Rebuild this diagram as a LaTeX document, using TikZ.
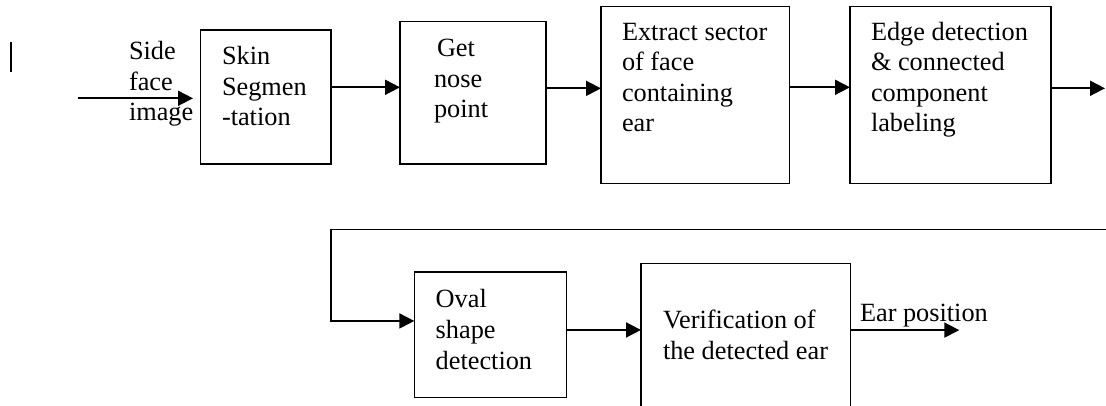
\documentclass[tikz,border=0pt]{standalone}
\usepackage{fontspec}
\setmainfont{Liberation Serif}
\usetikzlibrary{arrows.meta}
\begin{document}
\begin{tikzpicture}[x=1pt,y=-1pt,
  box/.style={draw, line width=1.5pt, inner sep=0pt, outer sep=0pt, anchor=north west},
  txt/.style={inner sep=0pt, outer sep=0pt, align=left, anchor=base west,
    font=\fontsize{26.3}{30.6}\selectfont},
  arr/.style={line width=1.8pt, -{Triangle[length=15pt,width=15pt]}}]
\useasboundingbox (0,0) rectangle (1106,406);
\clip (0,0) rectangle (1106,406);

% processing blocks
\node[box, minimum width=130.3pt, minimum height=134pt] (skin) at (200.7,30) {};
\node[box, minimum width=146pt, minimum height=142.3pt] (nose) at (400,21.7) {};
\node[box, minimum width=188.3pt, minimum height=177pt] (sector) at (601,6.3) {};
\node[box, minimum width=201pt, minimum height=177pt] (edge) at (850,6.3) {};
\node[box, minimum width=152.4pt, minimum height=125.7pt] (oval) at (414.3,272) {};
\node[box, minimum width=209.7pt, minimum height=157pt] (verif) at (641,263.3) {};

% block texts (placed by the baseline of their last line)
\node[txt] (skintxt) at (222,126) {Skin\\Segmen\\-tation};
\node[txt] (nosetxt) at (434,118) {\hspace*{3pt}Get\\nose\\point};
\node[txt] (sectortxt) at (622,132) {Extract sector\\of face\\containing\\ear};
\node[txt] (edgetxt) at (871,132) {Edge detection\\\& connected\\component\\labeling};
\node[txt] (ovaltxt) at (435.7,369) {Oval\\shape\\detection};
\node[txt] (veriftxt) at (663,359.5) {Verification of\\the detected ear};

% input
\node[txt] (intxt) at (129,121) {Side\\face\\image};
\coordinate (inEnd) at ([yshift=-1.3pt]skin.west);
\coordinate (inStart) at ([xshift=-122.7pt]inEnd);
\draw[arr, shorten >=7.7pt] (inStart) -- (inEnd);

% top row connectors
\coordinate (a1) at ([yshift=9.7pt]skin.east);
\draw[arr] (a1) -- (a1 -| nose.west);
\coordinate (a2) at ([yshift=4.5pt]nose.east);
\draw[arr] (a2) -- (a2 -| sector.west);
\coordinate (a3) at ([yshift=7.5pt]sector.east);
\draw[arr] (a3) -- (a3 -| edge.west);
\coordinate (a4) at ([yshift=6.5pt]edge.east);
\coordinate (a4end) at ([xshift=54pt]a4);
\draw[arr] (a4) -- (a4end);

% return line into the second row
\coordinate (loopR) at (1106,229.5);
\coordinate (o1) at ([yshift=13.9pt]oval.west);
\draw[arr] (loopR) -| (skin.east |- o1) -- (o1);

% bottom row connectors
\coordinate (b1) at ([yshift=4.9pt]oval.east);
\draw[arr] (b1) -- (b1 -| verif.west);
\coordinate (b2) at ([yshift=11.7pt]verif.east);
\coordinate (b2end) at ([xshift=108.6pt]b2);
\draw[arr] (b2) -- (b2end);
\node[txt] (eartxt) at ([xshift=9.3pt,yshift=9pt]b2) {Ear position};

% cursor mark at the left
\draw[line width=2.4pt] (10.7,41.7) -- (10.7,71.7);
\end{tikzpicture}
\end{document}
